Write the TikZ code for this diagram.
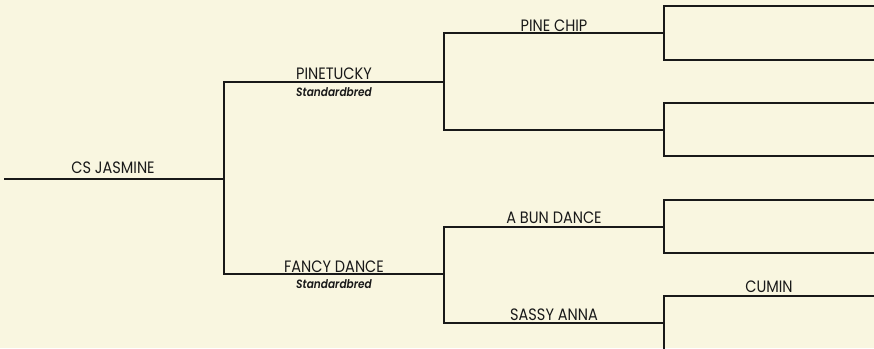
\documentclass[tikz,border=0pt]{standalone}
\usepackage{fontspec}
\setmainfont{Poppins}[FakeStretch=0.88]
\newfontfamily\breedfont{Poppins}[FakeStretch=0.88,UprightFont=* SemiBold Italic]
\definecolor{paper}{RGB}{249,246,224}
\definecolor{ink}{RGB}{25,25,25}
\tikzset{
  link/.style={draw=ink, line width=1.4pt},
  horse/.style={font=\fontsize{16.5}{18}\selectfont, text=ink, anchor=base, inner sep=0pt},
  breed/.style={font=\breedfont\fontsize{12}{13}\selectfont, text=ink, anchor=base, inner sep=0pt}
}
\begin{document}
\begin{tikzpicture}[x=1pt,y=-1pt]
\fill[paper] (0,0) rectangle (874,348);
\useasboundingbox (0,0) rectangle (874,348);
% generation 1
\coordinate (g1a) at (4,179);
\coordinate (g1b) at (224,179);
% generation 2
\coordinate (s1a) at (224,82);  \coordinate (s1b) at (444,82);
\coordinate (d1a) at (224,274); \coordinate (d1b) at (444,274);
% generation 3
\coordinate (s2a) at (444,33);  \coordinate (s2b) at (664,33);
\coordinate (s3a) at (444,130); \coordinate (s3b) at (664,130);
\coordinate (d2a) at (444,227); \coordinate (d2b) at (664,227);
\coordinate (d3a) at (444,323); \coordinate (d3b) at (664,323);
% generation 4
\coordinate (f1a) at (664,6);   \coordinate (f1b) at (874,6);
\coordinate (f2a) at (664,60);  \coordinate (f2b) at (874,60);
\coordinate (f3a) at (664,103); \coordinate (f3b) at (874,103);
\coordinate (f4a) at (664,156); \coordinate (f4b) at (874,156);
\coordinate (f5a) at (664,200); \coordinate (f5b) at (874,200);
\coordinate (f6a) at (664,253); \coordinate (f6b) at (874,253);
\coordinate (f7a) at (664,296); \coordinate (f7b) at (874,296);
\coordinate (f8a) at (664,349); \coordinate (f8b) at (874,349);

\draw[link] (g1a) -- (g1b);
\draw[link] (s1b) -- (s1a) -- (d1a) -- (d1b);
\draw[link] (s2b) -- (s2a) -- (s3a) -- (s3b);
\draw[link] (d2b) -- (d2a) -- (d3a) -- (d3b);
\draw[link] (f1b) -- (f1a) -- (f2a) -- (f2b);
\draw[link] (f3b) -- (f3a) -- (f4a) -- (f4b);
\draw[link] (f5b) -- (f5a) -- (f6a) -- (f6b);
\draw[link] (f7b) -- (f7a) -- (f8a);

\node[horse] (csj) at (113,173) {CS JASMINE};
\node[horse] (pin) at (334,79) {PINETUCKY};
\node[breed] (pinb) at (334,96) {Standardbred};
\node[horse] (fan) at (334,272) {FANCY DANCE};
\node[breed] (fanb) at (334,288) {Standardbred};
\node[horse] (pch) at (554,31) {PINE CHIP};
\node[horse] (abd) at (554,223) {A BUN DANCE};
\node[horse] (ssa) at (554,320) {SASSY ANNA};
\node[horse] (cum) at (769,292) {CUMIN};
\end{tikzpicture}
\end{document}
